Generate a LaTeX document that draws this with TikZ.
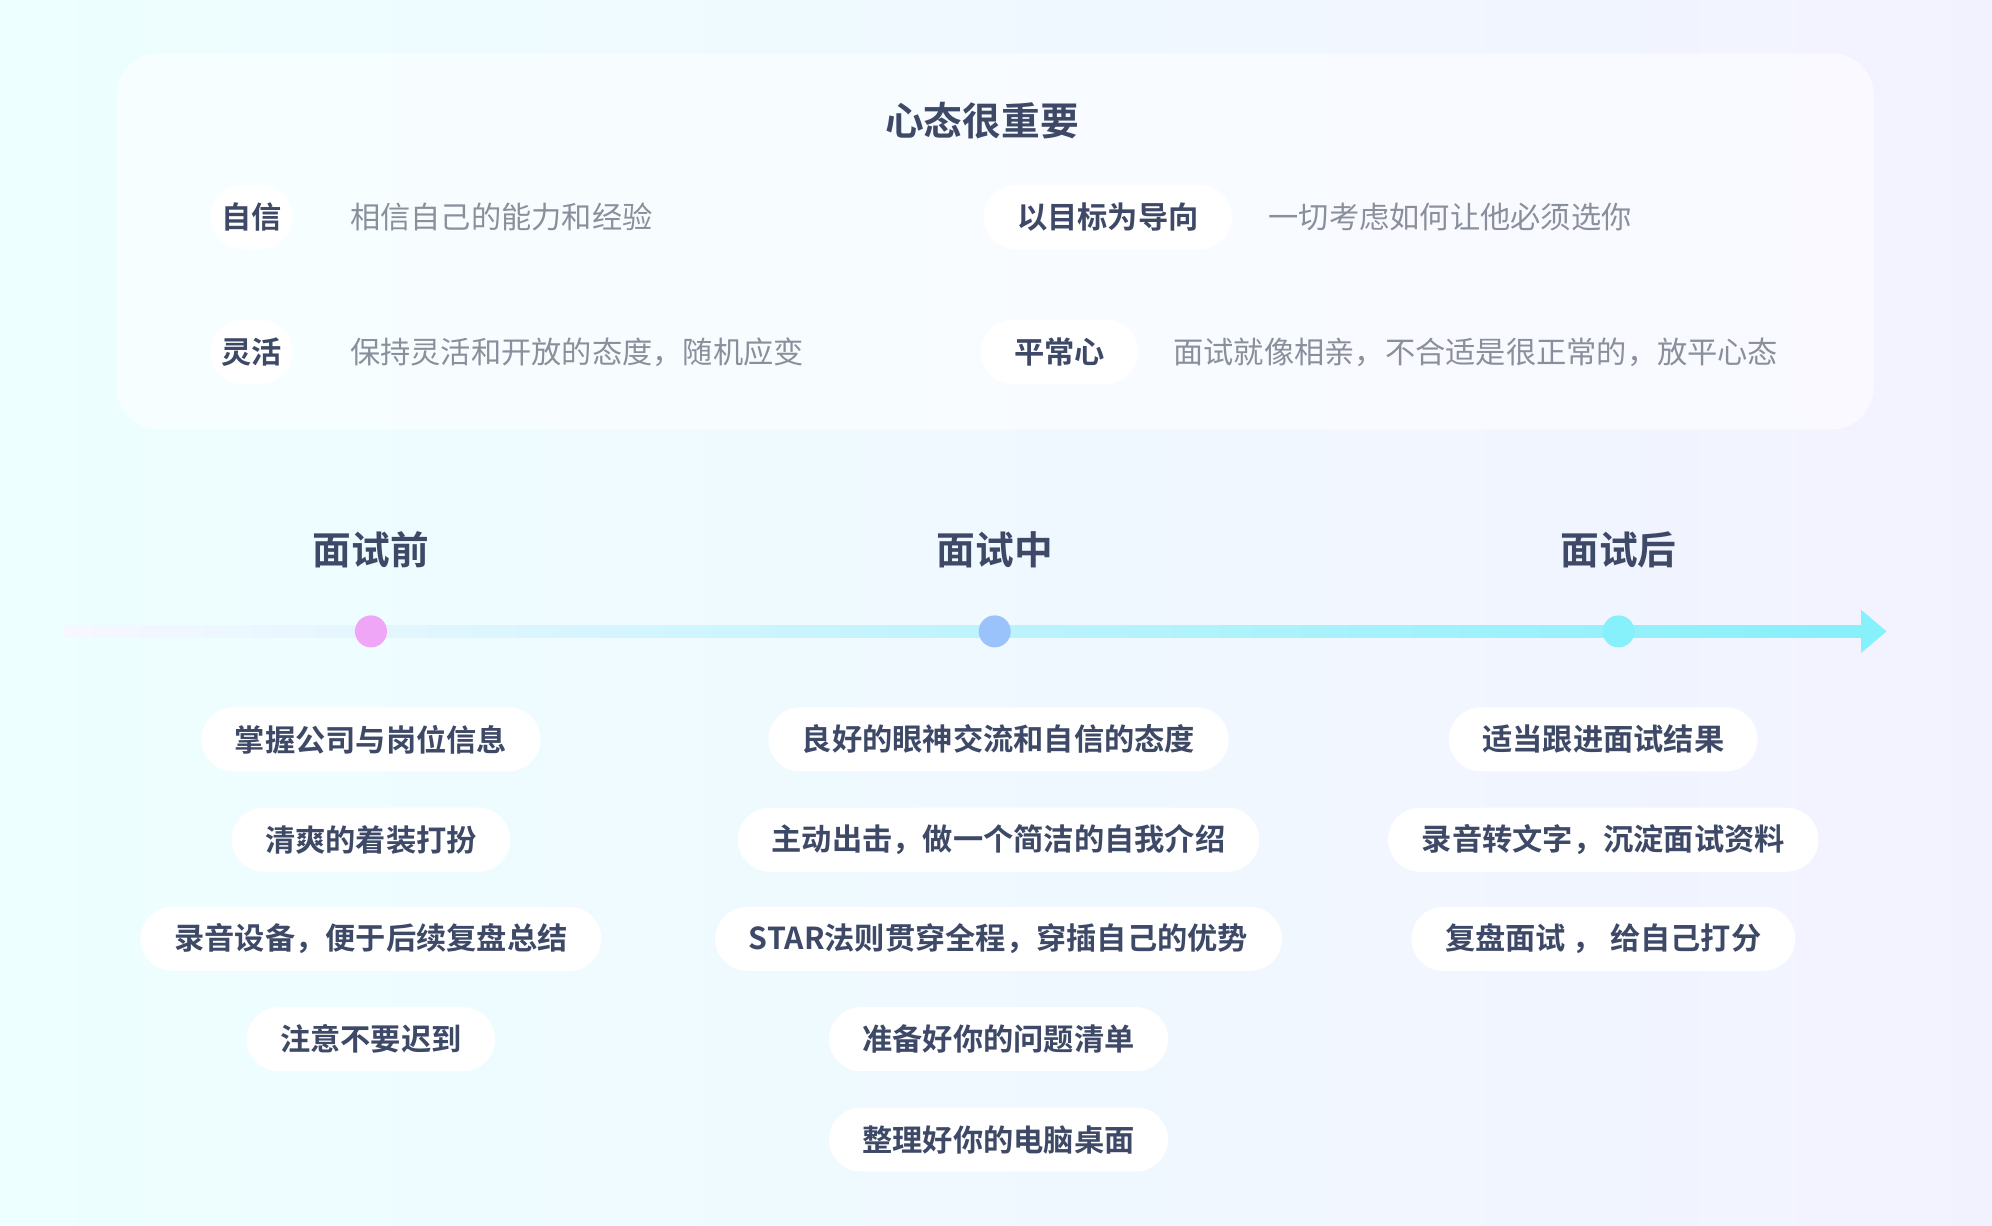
\documentclass[tikz,border=0pt]{standalone}
\usepackage{fontspec}
\setmainfont{Noto Sans CJK SC}
\newfontfamily\cjkbold{Noto Sans CJK SC Bold}
\usetikzlibrary{positioning, arrows.meta, shapes.misc}
\definecolor{ink}{HTML}{3D4966}
\definecolor{greytext}{HTML}{8A8F9C}
\definecolor{pinkdot}{HTML}{EFA6F7}
\definecolor{bluedot}{HTML}{9BC3FB}
\definecolor{cyandot}{HTML}{86F0FB}
\begin{document}
\begin{tikzpicture}[x=0.0127cm, y=-0.0127cm]
    \tikzset{
      pill/.style={draw=none, fill=white, rounded rectangle, minimum height=0.64cm,
                   inner xsep=0.3cm, font=\fontsize{8.6}{10}\cjkbold, text=ink},
      note/.style={anchor=west, inner xsep=0pt, font=\fontsize{8.6}{10}\selectfont, text=greytext},
      phase/.style={font=\fontsize{11}{13}\cjkbold, text=ink},
      dot/.style={circle, minimum size=0.32cm, inner sep=0pt}
    }
    % background
    \shade[left color=cyan!7, right color=blue!5] (0,0) rectangle (1568,965);
    \useasboundingbox (0,0) rectangle (1568,965);
    \fill[white, opacity=0.55, rounded corners=12pt] (92,42) rectangle (1475,338);

    % mindset
    \node[phase] (title) at (773,95) {心态很重要};
    \node[pill, minimum width=1.42cm] (confident) at (198,171) {自信};
    \node[note] (confidentnote) at (275,171) {相信自己的能力和经验};
    \node[pill] (goal) at (872,171) {以目标为导向};
    \node[note] (goalnote) at (998,171) {一切考虑如何让他必须选你};
    \node[pill, minimum width=1.42cm] (flexible) at (198,277) {灵活};
    \node[note] (flexiblenote) at (275,277) {保持灵活和开放的态度，随机应变};
    \node[pill] (calm) at (834,277) {平常心};
    \node[note] (calmnote) at (923,277) {面试就像相亲，不合适是很正常的，放平心态};

    % timeline
    \coordinate (start) at (50,497);
    \coordinate (tip) at (1485,497);
    \shade[left color=blue!3, right color=cyandot] (50,492) rectangle (1467,502);
    \fill[cyandot] (1465,480) -- (tip) -- (1465,514) -- cycle;
    \node[dot, fill=pinkdot] (before) at (292,497) {};
    \node[dot, fill=bluedot] (during) at (783,497) {};
    \node[dot, fill=cyandot] (after) at (1274,497) {};
    \node[phase] (beforetitle) at (292,433) {面试前};
    \node[phase] (duringtitle) at (783,433) {面试中};
    \node[phase] (aftertitle) at (1274,433) {面试后};

    % before
    \node[pill] (b1) at (292,582) {掌握公司与岗位信息};
    \node[pill] (b2) at (292,661) {清爽的着装打扮};
    \node[pill] (b3) at (292,739) {录音设备，便于后续复盘总结};
    \node[pill] (b4) at (292,818) {注意不要迟到};
    % during
    \node[pill] (d1) at (786,582) {良好的眼神交流和自信的态度};
    \node[pill] (d2) at (786,661) {主动出击，做一个简洁的自我介绍};
    \node[pill] (d3) at (786,739) {STAR法则贯穿全程，穿插自己的优势};
    \node[pill] (d4) at (786,818) {准备好你的问题清单};
    \node[pill] (d5) at (786,897) {整理好你的电脑桌面};
    % after
    \node[pill] (a1) at (1262,582) {适当跟进面试结果};
    \node[pill] (a2) at (1262,661) {录音转文字，沉淀面试资料};
    \node[pill] (a3) at (1262,739) {复盘面试 ， 给自己打分};
\end{tikzpicture}
\end{document}
